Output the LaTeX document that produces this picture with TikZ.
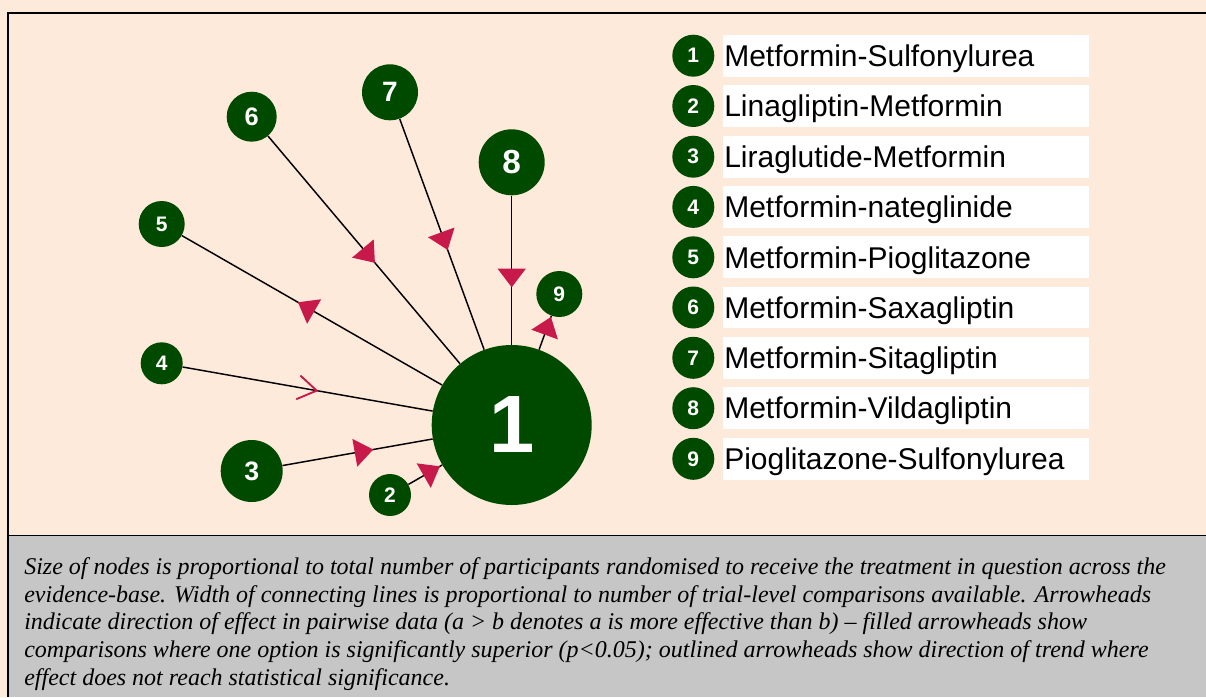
\documentclass[tikz,border=0pt]{standalone}
\usepackage{fontspec}
\setmainfont{Liberation Serif}
\newfontfamily\arialf{Liberation Sans}
\usetikzlibrary{arrows.meta,decorations.markings}
\definecolor{peach}{HTML}{FDEADB}
\definecolor{capgray}{HTML}{C6C6C6}
\definecolor{netgreen}{HTML}{004A00}
\definecolor{arrred}{HTML}{C8194B}
\newcommand{\fsz}[1]{\fontsize{#1}{#1}\selectfont}
\begin{document}
\begin{tikzpicture}[x=0.75pt,y=-0.75pt,
  net/.style={circle,fill=netgreen,inner sep=0pt,text=white,font=\arialf\bfseries},
  edge/.style={draw=black,line width=1.1pt},
  fillarr/.style={postaction={decorate,decoration={markings,
      mark=at position #1 with {\arrow{Triangle[length=14pt,width=21pt,color=arrred]}}}}},
  openarr/.style={postaction={decorate,decoration={markings,
      mark=at position #1 with {\arrow{Straight Barb[length=14pt,width=18pt,color=arrred,line width=1.4pt]}}}}},
  legnum/.style={net,minimum size=31.5pt,font=\arialf\bfseries\fsz{15.75}},
  legbox/.style={fill=white,anchor=west,minimum height=31.3pt,text width=272.5pt,inner xsep=1pt,inner ysep=0pt,
      text height=16.1pt,text depth=0pt,align=left,font=\arialf\fsz{22.5}}
]
\useasboundingbox (0,0) rectangle (1206,697);
% background
\fill[peach] (0,0) rectangle (1206,697);
\fill[capgray] (8,536) rectangle (1206,697);
\draw[line width=1.5pt] (1206,13) -- (8.3,13) -- (8.3,697);
\draw[line width=1.1pt] (8.3,535.5) -- (1206,535.5);

% network nodes
\node[net,minimum size=120pt,font=\arialf\bfseries\fsz{61}] (n1) at (511.7,425) {1};
\node[net,minimum size=31.5pt,font=\arialf\bfseries\fsz{15.75}] (n2) at (390,495) {2};
\node[net,minimum size=46.5pt,font=\arialf\bfseries\fsz{20}] (n3) at (251.7,471) {3};
\node[net,minimum size=31.5pt,font=\arialf\bfseries\fsz{15.75}] (n4) at (161.7,363.3) {4};
\node[net,minimum size=34.5pt,font=\arialf\bfseries\fsz{15.75}] (n5) at (161.7,224) {5};
\node[net,minimum size=37.5pt,font=\arialf\bfseries\fsz{19}] (n6) at (251.7,116.7) {6};
\node[net,minimum size=42pt,font=\arialf\bfseries\fsz{21}] (n7) at (390,92.3) {7};
\node[net,minimum size=49.5pt,font=\arialf\bfseries\fsz{25}] (n8) at (511.7,162.3) {8};
\node[net,minimum size=34.5pt,font=\arialf\bfseries\fsz{15.75}] (n9) at (559.3,294) {9};

% connectors
\draw[edge,fillarr=0.604] (n3) -- (n1);
\draw[edge,fillarr=0.934] (n2) -- (n1);
\draw[edge,openarr=0.543] (n4) -- (n1);
\draw[edge,fillarr=0.554] (n1) -- (n5);
\draw[edge,fillarr=0.557] (n6) -- (n1);
\draw[edge,fillarr=0.568] (n7) -- (n1);
\draw[edge,fillarr=0.615] (n8) -- (n1);
\draw[edge,fillarr=0.967] (n1) -- (n9);

% legend
\foreach \i/\y/\t in {1/55.7/Metformin-Sulfonylurea,
                      2/106/Linagliptin-Metformin,
                      3/156.7/Liraglutide-Metformin,
                      4/206.9/Metformin-nateglinide,
                      5/257.3/Metformin-Pioglitazone,
                      6/307.5/Metformin-Saxagliptin,
                      7/357.8/Metformin-Sitagliptin,
                      8/408.2/Metformin-Vildagliptin,
                      9/458.8/Pioglitazone-Sulfonylurea}{
  \node[legnum] (l\i) at (693.3,\y) {\i};
  \node[legbox] (t\i) at (722.7,\y) {\t};
}

% caption
\node[anchor=base west,inner sep=0pt,align=left,
      font=\itshape\fontsize{18}{20.7}\selectfont] (cap) at (24,685)
{Size of nodes is proportional to total number of participants randomised to receive the treatment in question across the\\
evidence-base. Width of connecting lines is proportional to number of trial-level comparisons available. Arrowheads\\
indicate direction of effect in pairwise data (a > b denotes a is more effective than b) -- filled arrowheads show\\
comparisons where one option is significantly superior (p<0.05); outlined arrowheads show direction of trend where\\
effect does not reach statistical significance.};
\end{tikzpicture}
\end{document}
